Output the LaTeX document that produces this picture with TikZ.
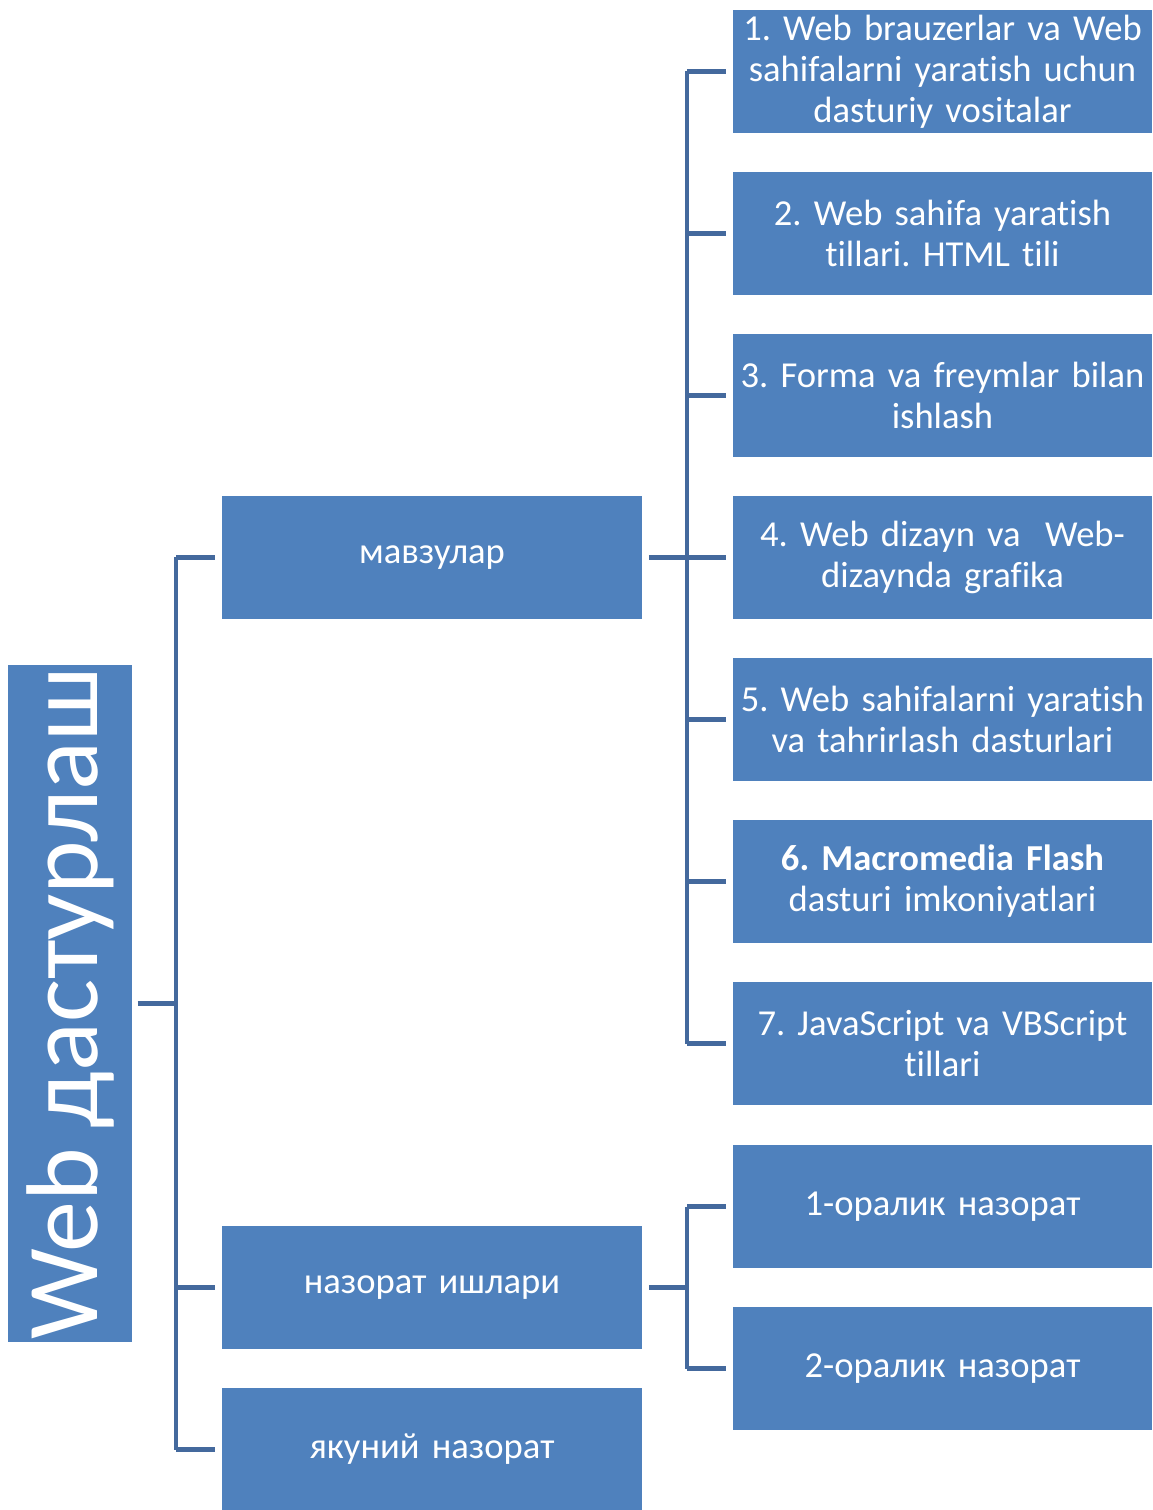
\documentclass[tikz,border=0pt]{standalone}
\usepackage{fontspec}
\setmainfont{Carlito}[Ligatures=NoCommon, WordSpace=0.85]
\frenchspacing
\definecolor{boxblue}{HTML}{4F81BD}
\definecolor{lineblue}{HTML}{44699D}
\tikzset{
  topic/.style={rectangle, fill=boxblue, text=white, inner sep=0pt,
    minimum width=4.19cm, minimum height=1.23cm, text width=4.15cm, align=center,
    font=\fontsize{10.4pt}{11.6pt}\selectfont},
  group/.style={topic, minimum width=4.2cm},
  link/.style={draw=lineblue, line width=1.4pt}
}
\begin{document}
\begin{tikzpicture}[x=0.01cm, y=-0.01cm]
  \useasboundingbox (0,0) rectangle (1152,1510);
  % root
  \node[rectangle, fill=boxblue, text=white, inner sep=0pt, minimum width=6.77cm,
    minimum height=1.24cm, rotate=90, font=\fontsize{29pt}{34pt}\selectfont]
    (root) at (70,1003.5) {Web дастурлаш};
  % second level
  \node[group] (mavzu) at (432,557.5) {мавзулар};
  \node[group] (nazorat) at (432,1287.5) {назорат ишлари};
  \node[group] (yakun) at (432,1449.5) {якуний назорат};
  % topics
  \node[topic] (t1) at (942.5,71.5) {1. Web brauzerlar va Web\\sahifalarni yaratish uchun\\dasturiy vositalar};
  \node[topic] (t2) at (942.5,233.5) {2. Web sahifa yaratish\\tillari. HTML tili};
  \node[topic] (t3) at (942.5,395.5) {3. Forma va freymlar bilan\\ishlash};
  \node[topic] (t4) at (942.5,557.5) {4. Web dizayn va\ \ Web-\\dizaynda grafika};
  \node[topic] (t5) at (942.5,719.5) {5. Web sahifalarni yaratish\\va tahrirlash dasturlari};
  \node[topic] (t6) at (942.5,881.5) {\textbf{6. Macromedia Flash}\\dasturi imkoniyatlari};
  \node[topic] (t7) at (942.5,1043.5) {7. JavaScript va VBScript\\tillari};
  % tests
  \node[topic] (n1) at (942.5,1206.5) {1-оралик назорат};
  \node[topic] (n2) at (942.5,1368.5) {2-оралик назорат};
  % buses
  \coordinate (busa) at (176,0);
  \coordinate (busb) at (687,0);
  % root to second level
  \draw[link] ([xshift=0.05cm]root.south) -- (busa |- root.south);
  \draw[link] (busa |- mavzu.west) -- (busa |- yakun.west);
  \draw[link] (busa |- mavzu.west) -- ([xshift=-0.06cm]mavzu.west);
  \draw[link] (busa |- nazorat.west) -- ([xshift=-0.06cm]nazorat.west);
  \draw[link] (busa |- yakun.west) -- ([xshift=-0.06cm]yakun.west);
  % topics
  \draw[link] ([xshift=0.06cm]mavzu.east) -- (busb |- mavzu.east);
  \draw[link] (busb |- t1.west) -- (busb |- t7.west);
  \draw[link] (busb |- t1.west) -- ([xshift=-0.06cm]t1.west);
  \draw[link] (busb |- t2.west) -- ([xshift=-0.06cm]t2.west);
  \draw[link] (busb |- t3.west) -- ([xshift=-0.06cm]t3.west);
  \draw[link] (busb |- t4.west) -- ([xshift=-0.06cm]t4.west);
  \draw[link] (busb |- t5.west) -- ([xshift=-0.06cm]t5.west);
  \draw[link] (busb |- t6.west) -- ([xshift=-0.06cm]t6.west);
  \draw[link] (busb |- t7.west) -- ([xshift=-0.06cm]t7.west);
  % tests
  \draw[link] ([xshift=0.06cm]nazorat.east) -- (busb |- nazorat.east);
  \draw[link] (busb |- n1.west) -- (busb |- n2.west);
  \draw[link] (busb |- n1.west) -- ([xshift=-0.06cm]n1.west);
  \draw[link] (busb |- n2.west) -- ([xshift=-0.06cm]n2.west);
\end{tikzpicture}
\end{document}
